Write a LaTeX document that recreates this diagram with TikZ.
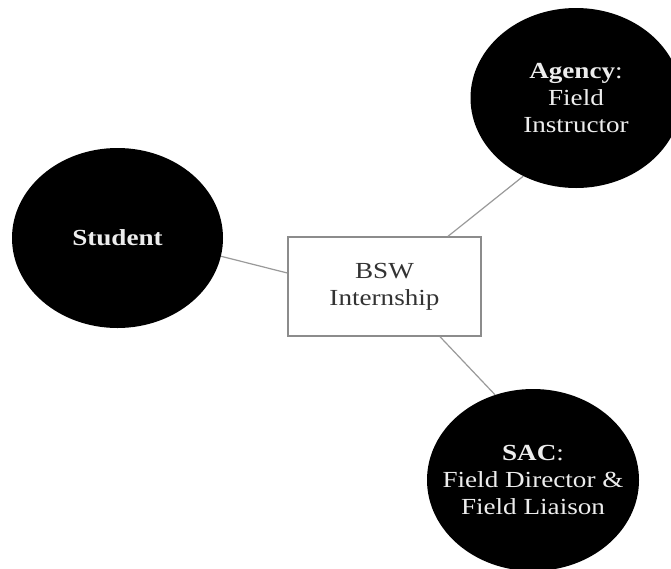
\documentclass[tikz,border=0pt]{standalone}
\usepackage{fontspec}
\setmainfont[FakeStretch=1.18]{Liberation Serif}
\usetikzlibrary{shapes.geometric}
\definecolor{boxline}{HTML}{8C8C8C}
\definecolor{conn}{HTML}{9A9A9A}
\definecolor{boxtext}{HTML}{333333}
\definecolor{blobtext}{HTML}{EDEDED}
\tikzset{
  blob/.style={ellipse, fill=black, draw=none, text=blobtext, align=center, inner sep=0pt,
    inner xsep=-25pt,
    minimum width=211pt, minimum height=180pt,
    font=\fontsize{23}{27}\selectfont},
  hub/.style={rectangle, draw=boxline, line width=1.4pt, fill=white, text=boxtext, align=center,
    inner sep=0pt, minimum width=193pt, minimum height=99pt,
    font=\fontsize{23}{27}\selectfont},
  link/.style={draw=conn, line width=1.2pt}
}
\begin{document}
\begin{tikzpicture}[x=1pt,y=-1pt]
\useasboundingbox (0,0) rectangle (671,568);
\clip (0,0) rectangle (671,568);
\fill[white] (0,0) rectangle (671,568);
\node[blob] (student) at (117.5,238) {\textbf{Student}};
\node[blob] (agency) at (576,98) {\textbf{Agency}:\\Field\\Instructor};
\node[blob, minimum width=212pt, minimum height=182pt] (sac) at (533,480) {\textbf{SAC}:\\Field Director \&\\Field Liaison};
\node[hub] (box) at (384.5,286.5) {BSW\\Internship};
\draw[link] (student.-10) -- ([yshift=13.5pt]box.west);
\draw[link] (agency.236) -- ([xshift=63.5pt]box.north);
\draw[link] ([xshift=55.5pt]box.south) -- (sac.114);
\end{tikzpicture}
\end{document}
